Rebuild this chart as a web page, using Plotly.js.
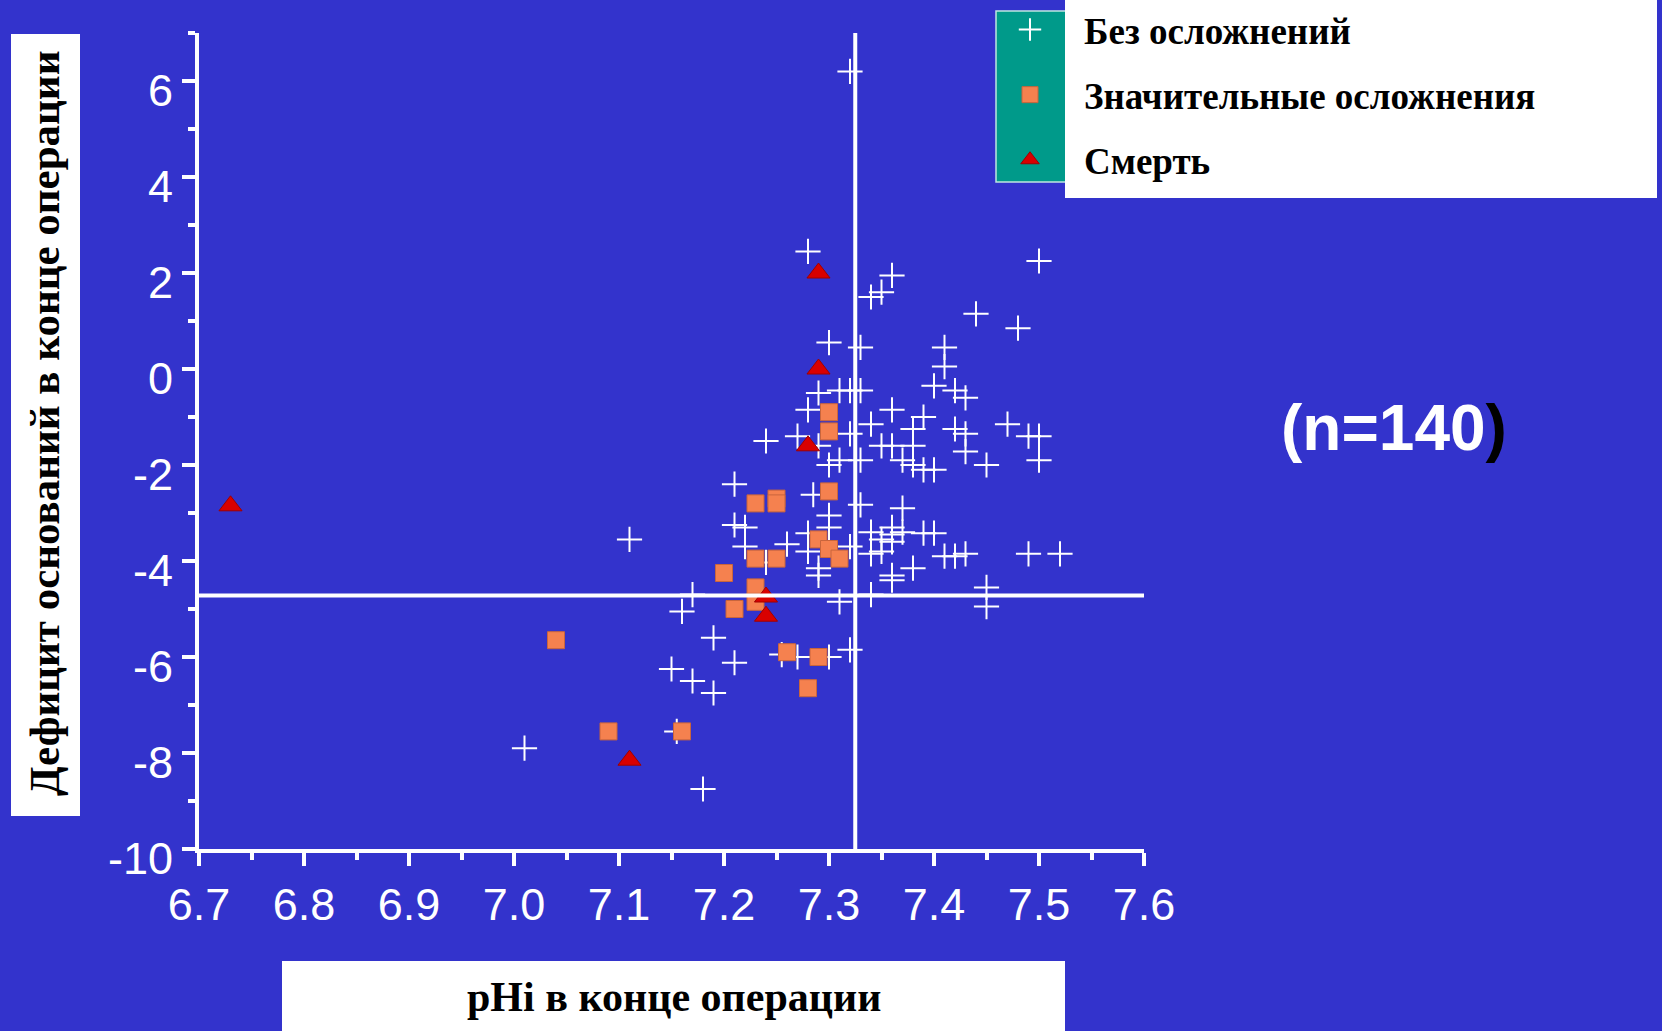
<!DOCTYPE html>
<html>
<head>
<meta charset="utf-8">
<script src="https://cdn.plot.ly/plotly-3.0.1.min.js"></script>
<style>
html,body{margin:0;padding:0;background:#3333CC;}
#chart{width:1662px;height:1031px;}
</style>
</head>
<body>
<div id="chart"></div>
<script>
// ---- data ----
const seriesNames = ["Без осложнений", "Значительные осложнения", "Смерть"];

const noComplPHi = [7.32,7.28,7.36,7.35,7.34,7.50,7.44,7.48,7.30,7.33,7.41,7.41,7.40,7.42,7.43,7.29,7.31,7.32,7.33,7.28,
  7.36,7.39,7.34,7.47,7.32,7.38,7.42,7.43,7.49,7.50,7.24,7.27,7.29,7.35,7.36,7.38,7.43,7.50,7.30,7.31,
  7.33,7.37,7.38,7.39,7.40,7.45,7.21,7.285,7.33,7.37,7.30,7.21,7.22,7.30,7.28,7.34,7.35,7.36,7.36,7.37,
  7.36,7.34,7.35,7.39,7.40,7.26,7.22,7.28,7.32,7.24,7.29,7.29,7.38,7.36,7.36,7.41,7.42,7.43,7.49,7.52,
  7.45,7.45,7.17,7.16,7.31,7.34,7.19,7.255,7.27,7.30,7.32,7.21,7.15,7.17,7.19,7.155,7.18,7.11,7.01];
const noComplBD = [6.2,2.45,1.95,1.6,1.5,2.25,1.15,0.85,0.55,0.45,0.45,0.05,-0.35,-0.45,-0.6,-0.5,-0.45,-0.45,-0.45,-0.85,
  -0.85,-1.0,-1.15,-1.15,-1.35,-1.25,-1.25,-1.35,-1.4,-1.4,-1.5,-1.4,-1.6,-1.6,-1.6,-1.6,-1.72,-1.9,-2.0,-1.9,
  -1.9,-1.9,-2.0,-2.1,-2.1,-2.0,-2.4,-2.62,-2.83,-2.9,-3.05,-3.25,-3.3,-3.3,-3.42,-3.4,-3.55,-3.3,-3.45,-3.4,
  -3.6,-3.85,-3.8,-3.42,-3.42,-3.65,-3.7,-3.8,-3.7,-4.03,-4.15,-4.3,-4.15,-4.3,-4.4,-3.9,-3.9,-3.85,-3.85,-3.85,
  -4.55,-4.95,-4.7,-5.05,-4.85,-4.7,-5.6,-5.95,-6.0,-6.0,-5.85,-6.12,-6.25,-6.5,-6.75,-7.55,-8.75,-3.55,-7.9];

const majorPHi = [7.30,7.30,7.30,7.23,7.25,7.25,7.29,7.30,7.31,7.23,7.25,7.20,7.23,7.23,7.21,7.26,7.29,7.28,7.16,7.09,7.04];
const majorBD  = [-0.9,-1.3,-2.55,-2.8,-2.7,-2.8,-3.55,-3.75,-3.95,-3.95,-3.95,-4.25,-4.55,-4.85,-5.0,-5.9,-6.0,-6.65,-7.55,-7.55,-5.65];

const deathPHi = [6.73,7.29,7.29,7.28,7.24,7.24,7.11];
const deathBD  = [-2.85,2.0,0.0,-1.6,-4.75,-5.15,-8.15];

const thresholdPHi = 7.325;
const thresholdBD = -4.72;

const xTickVals = [6.7,6.8,6.9,7.0,7.1,7.2,7.3,7.4,7.5,7.6];
const xTickText = ["6.7","6.8","6.9","7.0","7.1","7.2","7.3","7.4","7.5","7.6"];
const yTickVals = [6,4,2,0,-2,-4,-6,-8,-10];
const yTickText = ["6","4","2","0","-2","-4","-6","-8","-10"];

const xTitle = "pHi в конце операции";
const yTitle = "Дефицит оснований в конце операции";
const nLabel = "(n=140<span style=\"color:#000000\">)</span>";

// ---- geometry helpers (pixel -> paper) ----
const L = 199, R = 1144, T = 33, B = 849;
const pxX = x => (x - L) / (R - L);
const pxY = y => (B - y) / (B - T);

const BG = "#3333CC";
const serif = "Liberation Serif, Times New Roman, serif";
const sans = "Liberation Sans, Arial, sans-serif";

const traces = [
  {x: noComplPHi, y: noComplBD, name: seriesNames[0], type: "scatter", mode: "markers",
   legendgroup: "a",
   marker: {symbol: "cross-thin-open", size: 18, color: "#FFFFFF", line: {color: "#FFFFFF", width: 2}}},
  {x: majorPHi, y: majorBD, name: seriesNames[1], type: "scatter", mode: "markers",
   legendgroup: "b",
   marker: {symbol: "square", size: 17, color: "#F5814F", line: {color: "#C9653C", width: 1}}},
  {x: deathPHi, y: deathBD, name: seriesNames[2], type: "scatter", mode: "markers",
   legendgroup: "c",
   marker: {symbol: "triangle-up", size: 20, color: "#D90000", line: {color: "#A00000", width: 1}}}
];

const layout = {
  width: 1662, height: 1031,
  paper_bgcolor: BG, plot_bgcolor: BG,
  margin: {l: L, r: 1662 - R, t: T, b: 1031 - B, pad: 0, autoexpand: false},
  showlegend: true,
  legend: {
    x: pxX(976), y: pxY(-1), xanchor: "left", yanchor: "top",
    bgcolor: "rgba(0,0,0,0)", borderwidth: 0,
    font: {family: serif, size: 37, color: "#000000", weight: "bold"},
    traceorder: "grouped", tracegroupgap: 14, itemwidth: 98, itemsizing: "trace"
  },
  xaxis: {
    range: [6.7, 7.6], showgrid: false, zeroline: false,
    showline: true, linecolor: "#FFFFFF", linewidth: 4,
    ticks: "outside", ticklen: 13, tickwidth: 4, tickcolor: "#FFFFFF",
    tickmode: "array", tickvals: xTickVals, ticktext: xTickText,
    tickfont: {family: sans, size: 45, color: "#FFFFFF"},
    minor: {tickmode: "linear", tick0: 6.75, dtick: 0.1, ticks: "outside", ticklen: 7, tickwidth: 4, tickcolor: "#FFFFFF", showgrid: false},
    fixedrange: true
  },
  yaxis: {
    range: [-10, 7], showgrid: false, zeroline: false,
    showline: true, linecolor: "#FFFFFF", linewidth: 4,
    ticks: "outside", ticklen: 13, tickwidth: 4, tickcolor: "#FFFFFF",
    tickmode: "array", tickvals: yTickVals, ticktext: yTickText,
    tickfont: {family: sans, size: 45, color: "#FFFFFF"},
    ticklabelshift: 9,
    minor: {tickmode: "linear", tick0: -9, dtick: 2, ticks: "outside", ticklen: 7, tickwidth: 4, tickcolor: "#FFFFFF", showgrid: false},
    fixedrange: true
  },
  shapes: [
    // reference lines
    {type: "line", xref: "x", yref: "y", x0: thresholdPHi, x1: thresholdPHi, y0: -10, y1: 7,
     line: {color: "#FFFFFF", width: 4}},
    {type: "line", xref: "x", yref: "y", x0: 6.7, x1: 7.6, y0: thresholdBD, y1: thresholdBD,
     line: {color: "#FFFFFF", width: 4}},
    // legend boxes
    {type: "rect", xref: "paper", yref: "paper", x0: pxX(996), x1: pxX(1066), y0: pxY(182), y1: pxY(11),
     fillcolor: "#009A8A", line: {color: "#BFE6E0", width: 1.5}, layer: "below"},
    {type: "rect", xref: "paper", yref: "paper", x0: pxX(1065), x1: pxX(1657), y0: pxY(198), y1: pxY(-2),
     fillcolor: "#FFFFFF", line: {width: 0}, layer: "below"},
    // axis title boxes
    {type: "rect", xref: "paper", yref: "paper", x0: pxX(282), x1: pxX(1065), y0: pxY(1033), y1: pxY(961),
     fillcolor: "#FFFFFF", line: {width: 0}, layer: "below"},
    {type: "rect", xref: "paper", yref: "paper", x0: pxX(11), x1: pxX(80), y0: pxY(816), y1: pxY(34),
     fillcolor: "#FFFFFF", line: {width: 0}, layer: "below"}
  ],
  annotations: [
    {xref: "paper", yref: "paper", x: pxX(674), y: pxY(997), xanchor: "center", yanchor: "middle",
     text: xTitle, showarrow: false, font: {family: serif, size: 42, color: "#000000", weight: "bold"}},
    {xref: "paper", yref: "paper", x: pxX(45), y: pxY(424), xanchor: "center", yanchor: "middle",
     text: yTitle, textangle: -90, showarrow: false, font: {family: serif, size: 43, color: "#000000", weight: "bold"}},
    {xref: "paper", yref: "paper", x: pxX(1394), y: pxY(428), xanchor: "center", yanchor: "middle",
     text: nLabel, showarrow: false, font: {family: sans, size: 64, color: "#FFFFFF", weight: "bold"}}
  ]
};

Plotly.newPlot("chart", traces, layout, {displayModeBar: false, staticPlot: true});
</script>
</body>
</html>
